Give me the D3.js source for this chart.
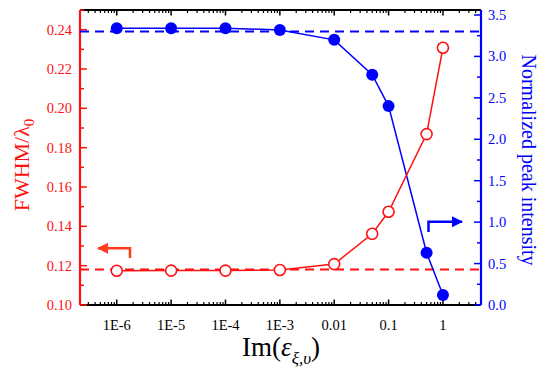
<!DOCTYPE html>
<html>
<head>
<meta charset="utf-8">
<script src="https://cdn.jsdelivr.net/npm/d3@7"></script>
<style>
  body { margin: 0; background: #fff; }
  text { font-family: "Liberation Serif", "Times New Roman", serif; }
</style>
</head>
<body>
<div id="chart"></div>
<script>
// data
const imEps = [1e-6, 1e-5, 1e-4, 1e-3, 0.01, 0.05, 0.1, 0.5, 1];
const fwhm = [0.1174, 0.1175, 0.1175, 0.1178, 0.1208, 0.1362, 0.1474, 0.1869, 0.2308];
const peak = [3.34, 3.34, 3.34, 3.32, 3.20, 2.78, 2.40, 0.63, 0.12];
const fwhmRef = 0.1181;
const peakRef = 3.30;
const xTicks = [1e-6, 1e-5, 1e-4, 1e-3, 0.01, 0.1, 1];
const xTickLabels = ["1E-6", "1E-5", "1E-4", "1E-3", "0.01", "0.1", "1"];

const W = 545, H = 373;
const margin = {top: 10, right: 64, bottom: 68, left: 80};
const width = W - margin.left - margin.right,
      height = H - margin.top - margin.bottom;

const RED = "#ff1111", BLUE = "#0000ff", ARROW_RED = "#ff3c1e";

const svg = d3.select("#chart").append("svg")
    .attr("width", W)
    .attr("height", H);

const g = svg.append("g").attr("transform", `translate(${margin.left},${margin.top})`);

const x = d3.scaleLog().domain([Math.pow(10, -6.676), Math.pow(10, 0.7)]).range([0, width]);
const yL = d3.scaleLinear().domain([0.10, 0.25]).range([height, 0]);
const yR = d3.scaleLinear().domain([0, 3.56]).range([height, 0]);

// log minor ticks
const minorX = [];
for (let e = -7; e <= 0; e++) {
    for (let m = 2; m <= 9; m++) {
        const v = m * Math.pow(10, e);
        if (v >= x.domain()[0] && v <= x.domain()[1]) minorX.push(v);
    }
}

function xAxisTicks(sel, sign) {
    // sign -1: ticks point up (bottom), +1: point down (top)
    sel.selectAll("line.minor").data(minorX).enter().append("line")
        .attr("x1", d => x(d)).attr("x2", d => x(d))
        .attr("y1", 0).attr("y2", sign * 3)
        .attr("stroke", "#000").attr("stroke-width", 1.2);
    sel.selectAll("line.major").data(xTicks).enter().append("line")
        .attr("x1", d => x(d)).attr("x2", d => x(d))
        .attr("y1", 0).attr("y2", sign * 5.5)
        .attr("stroke", "#000").attr("stroke-width", 1.5);
    sel.append("line")
        .attr("x1", 0).attr("x2", width)
        .attr("stroke", "#000").attr("stroke-width", 2);
}

const bottomAx = g.append("g").attr("transform", `translate(0,${height})`);
xAxisTicks(bottomAx, -1);
bottomAx.selectAll("text.tl").data(xTicks).enter().append("text")
    .attr("x", d => x(d)).attr("y", 25)
    .attr("text-anchor", "middle")
    .attr("font-size", 14.5)
    .attr("fill", "#000")
    .text((d, i) => xTickLabels[i]);

const topAx = g.append("g");
xAxisTicks(topAx, 1);

// left axis (red)
const leftAx = g.append("g");
leftAx.selectAll("line.minor").data(d3.range(0.11, 0.25, 0.02)).enter().append("line")
    .attr("x1", 0).attr("x2", 4).attr("y1", d => yL(d)).attr("y2", d => yL(d))
    .attr("stroke", RED).attr("stroke-width", 1.5);
leftAx.selectAll("line.major").data(d3.range(0.10, 0.2501, 0.02)).enter().append("line")
    .attr("x1", 0).attr("x2", 7).attr("y1", d => yL(d)).attr("y2", d => yL(d))
    .attr("stroke", RED).attr("stroke-width", 1.5);
leftAx.selectAll("text").data(d3.range(0.10, 0.2401, 0.02)).enter().append("text")
    .attr("x", -8).attr("y", d => yL(d)).attr("dy", "0.35em")
    .attr("text-anchor", "end").attr("font-size", 14.5).attr("fill", RED)
    .text(d => d.toFixed(2));
leftAx.append("line").attr("x1", 0).attr("x2", 0).attr("y1", 0).attr("y2", height)
    .attr("stroke", RED).attr("stroke-width", 2.2);

// right axis (blue)
const rightAx = g.append("g").attr("transform", `translate(${width},0)`);
rightAx.selectAll("line.minor").data(d3.range(0.25, 3.56, 0.5)).enter().append("line")
    .attr("x1", 0).attr("x2", -4).attr("y1", d => yR(d)).attr("y2", d => yR(d))
    .attr("stroke", BLUE).attr("stroke-width", 1.5);
rightAx.selectAll("line.major").data(d3.range(0, 3.51, 0.5)).enter().append("line")
    .attr("x1", 0).attr("x2", -7).attr("y1", d => yR(d)).attr("y2", d => yR(d))
    .attr("stroke", BLUE).attr("stroke-width", 1.5);
rightAx.selectAll("text").data(d3.range(0, 3.51, 0.5)).enter().append("text")
    .attr("x", 7).attr("y", d => yR(d)).attr("dy", "0.35em")
    .attr("text-anchor", "start").attr("font-size", 14.5).attr("fill", BLUE)
    .text(d => d.toFixed(1));
rightAx.append("line").attr("x1", 0).attr("x2", 0).attr("y1", 0).attr("y2", height)
    .attr("stroke", BLUE).attr("stroke-width", 2.2);

// reference dashed lines
g.append("line")
    .attr("x1", 0).attr("x2", width).attr("y1", yL(fwhmRef)).attr("y2", yL(fwhmRef))
    .attr("stroke", RED).attr("stroke-width", 2).attr("stroke-dasharray", "9,6");
g.append("line")
    .attr("x1", 0).attr("x2", width).attr("y1", yR(peakRef)).attr("y2", yR(peakRef))
    .attr("stroke", BLUE).attr("stroke-width", 2).attr("stroke-dasharray", "9,6");

// blue series
const blueLine = d3.line().x((d, i) => x(imEps[i])).y(d => yR(d));
g.append("path").datum(peak).attr("d", blueLine)
    .attr("fill", "none").attr("stroke", BLUE).attr("stroke-width", 1.5);
g.selectAll("circle.peak").data(peak).enter().append("circle")
    .attr("class", "peak")
    .attr("cx", (d, i) => x(imEps[i])).attr("cy", d => yR(d)).attr("r", 6)
    .attr("fill", BLUE);

// red series
const redLine = d3.line().x((d, i) => x(imEps[i])).y(d => yL(d));
g.append("path").datum(fwhm).attr("d", redLine)
    .attr("fill", "none").attr("stroke", RED).attr("stroke-width", 1.5);
g.selectAll("circle.fwhm").data(fwhm).enter().append("circle")
    .attr("class", "fwhm")
    .attr("cx", (d, i) => x(imEps[i])).attr("cy", d => yL(d)).attr("r", 5.5)
    .attr("fill", "#fff").attr("stroke", RED).attr("stroke-width", 1.6);

// axis indicator arrows
const defs = svg.append("defs");
function marker(id, color) {
    defs.append("marker").attr("id", id)
        .attr("viewBox", "0 0 10 10").attr("refX", 9).attr("refY", 5)
        .attr("markerWidth", 4.5).attr("markerHeight", 4.5).attr("orient", "auto")
        .append("path").attr("d", "M0,0L10,5L0,10z").attr("fill", color);
}
marker("ah-red", ARROW_RED);
marker("ah-blue", BLUE);

g.append("path")
    .attr("d", `M${130 - margin.left},${258 - margin.top}V${248.3 - margin.top}H${98 - margin.left}`)
    .attr("fill", "none").attr("stroke", ARROW_RED).attr("stroke-width", 2.5)
    .attr("marker-end", "url(#ah-red)");
g.append("path")
    .attr("d", `M${428.5 - margin.left},${232 - margin.top}V${221.7 - margin.top}H${462 - margin.left}`)
    .attr("fill", "none").attr("stroke", BLUE).attr("stroke-width", 2.5)
    .attr("marker-end", "url(#ah-blue)");

// axis titles
const yt = svg.append("text")
    .attr("transform", "translate(29,165) rotate(-90)")
    .attr("text-anchor", "middle").attr("font-size", 22).attr("fill", RED);
yt.append("tspan").text("FWHM/λ");
yt.append("tspan").attr("font-size", 15).attr("dy", 5).text("0");

svg.append("text")
    .attr("transform", "translate(522,160) rotate(90)")
    .attr("text-anchor", "middle").attr("font-size", 20).attr("fill", BLUE)
    .text("Normalized peak intensity");

const xt = svg.append("text")
    .attr("x", 281).attr("y", 356)
    .attr("text-anchor", "middle").attr("font-size", 27).attr("fill", "#000");
xt.append("tspan").text("Im(");
xt.append("tspan").attr("font-style", "italic").text("ε");
xt.append("tspan").attr("font-style", "italic").attr("font-size", 17).attr("dy", 8).text("ξ,υ");
xt.append("tspan").attr("dy", -8).text(")");
</script>
</body>
</html>
